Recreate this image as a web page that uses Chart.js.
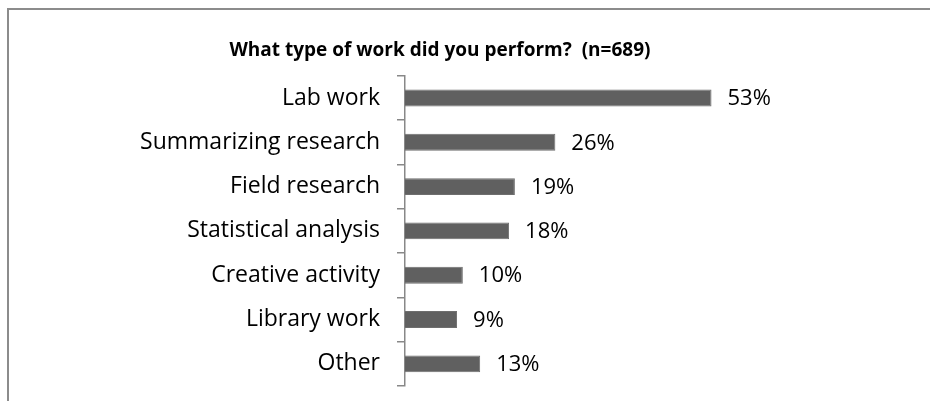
<!DOCTYPE html>
<html>
<head>
<meta charset="utf-8">
<script src="https://cdn.jsdelivr.net/npm/chart.js@4"></script>
<style>
  body { margin: 0; background: #fff; overflow: hidden; }
  #wrap { position: relative; width: 930px; height: 401px; overflow: hidden; }
  #frame { position: absolute; left: 7px; top: 8px; width: 1000px; height: 500px;
           border-top: 2px solid #8c8c8c; border-left: 2px solid #8c8c8c; }
  #chart { position: absolute; left: 0; top: 0; }
</style>
</head>
<body>
<div id="wrap">
  <div id="frame"></div>
  <canvas id="chart" width="930" height="401"></canvas>
</div>
<script>
// categories and values (percent)
const categories = ['Lab work', 'Summarizing research', 'Field research', 'Statistical analysis',
                    'Creative activity', 'Library work', 'Other'];
const shares = [53, 26, 19, 18, 10, 9, 13];
const chartTitle = 'What type of work did you perform?  (n=689)';

const FONT = "'Open Sans', 'Noto Sans', sans-serif";

// writes "53%" etc. just after the end of each bar
const barLabels = {
    id: 'barLabels',
    afterDatasetsDraw(chart) {
        const ctx = chart.ctx;
        const meta = chart.getDatasetMeta(0);
        ctx.save();
        ctx.font = '22px ' + FONT;
        ctx.fillStyle = '#000';
        ctx.textAlign = 'left';
        ctx.textBaseline = 'middle';
        meta.data.forEach(function(bar, i){
            ctx.fillText(shares[i] + '%', bar.x + 16, bar.y + 1);
        });
        ctx.restore();
    }
};

const ctx = document.getElementById('chart').getContext('2d');
new Chart(ctx, {
    type: 'bar',
    data: {
        labels: categories,
        datasets: [{
            data: shares,
            backgroundColor: '#606060',
            borderColor: '#6e6e6e',
            borderWidth: 1,
            barPercentage: 0.38,
            categoryPercentage: 1
        }]
    },
    options: {
        indexAxis: 'y',
        responsive: false,
        animation: false,
        layout: { padding: { left: 128, right: 178, top: 0, bottom: 15 } },
        plugins: {
            legend: { display: false },
            tooltip: { enabled: false },
            title: {
                display: true,
                text: chartTitle,
                color: '#000',
                font: { family: FONT, size: 19, weight: 'bold' },
                padding: { top: 39, bottom: 14 }
            }
        },
        scales: {
            x: { display: false, min: 0, max: 60 },
            y: {
                afterFit: function(scale){
                    // fixed width, and no extra room kept for the last label
                    scale.width = 277;
                    scale.paddingTop = 0;
                    scale.paddingBottom = 0;
                },
                border: { display: true, color: '#888', width: 1.5 },
                grid: { drawOnChartArea: false, color: '#888', lineWidth: 1.5, tickLength: 8 },
                ticks: { color: '#000', padding: 17, font: { family: FONT, size: 23 } }
            }
        }
    },
    plugins: [barLabels]
});
</script>
</body>
</html>
